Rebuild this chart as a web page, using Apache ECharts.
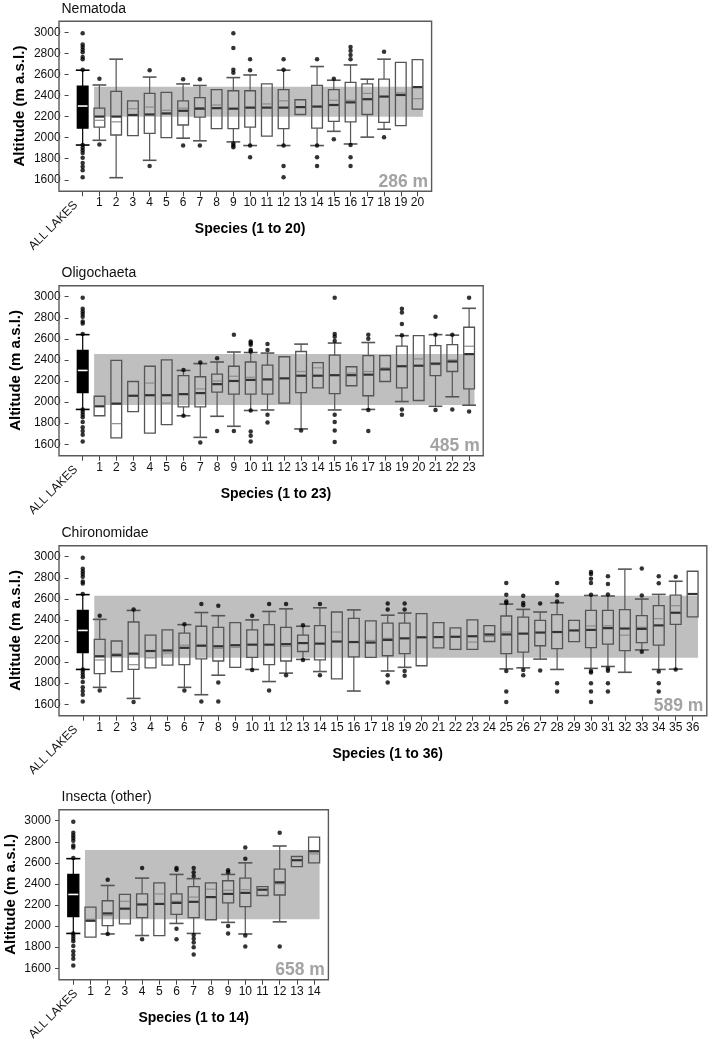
<!DOCTYPE html>
<html><head><meta charset="utf-8">
<script src="https://cdn.jsdelivr.net/npm/echarts@6/dist/echarts.min.js"></script>
<style>html,body{margin:0;padding:0;background:#fff}#c{width:709px;height:1042px}</style>
</head><body><div id="c"></div>
<script>
// ---- DATA ----  box rows: [low whisker, Q1, median, mean, Q3, high whisker]
const allLakesBox = [1930, 2090, 2300, 2300, 2490, 2640];
const allLakesOutliers = [2990, 2885, 2860, 2835, 2810, 2765, 2745, 2645, 1930, 1905, 1880, 1855, 1810, 1760, 1725, 1690, 1625];

const nematodaBoxes = [
  [1975, 2100, 2200, 2165, 2280, 2500], [1620, 2025, 2200, 2150, 2440, 2745], [2020, 2020, 2215, 2275, 2350, 2350],
  [1785, 2040, 2220, 2290, 2420, 2575], [2000, 2000, 2230, 2260, 2430, 2430], [1995, 2120, 2255, 2280, 2350, 2510],
  [1970, 2195, 2275, 2285, 2380, 2495], [2085, 2085, 2280, 2310, 2455, 2455], [1960, 2085, 2275, 2275, 2445, 2570],
  [1925, 2100, 2285, 2285, 2445, 2595], [2015, 2015, 2285, 2320, 2510, 2510], [1925, 2085, 2285, 2350, 2455, 2640],
  [2220, 2220, 2290, 2290, 2360, 2360], [1925, 2090, 2295, 2295, 2495, 2675], [2060, 2155, 2310, 2355, 2455, 2545],
  [1940, 2150, 2335, 2355, 2525, 2690], [2005, 2220, 2365, 2420, 2510, 2555], [2080, 2145, 2390, 2390, 2555, 2745],
  [2115, 2115, 2405, 2425, 2715, 2715], [2270, 2270, 2480, 2370, 2740, 2740]
];
const nematodaOutliers = [
  [1, 2560], [1, 1935], [4, 2640], [4, 1730], [6, 2555], [6, 1925], [7, 2555], [7, 1925],
  [9, 2990], [9, 2850], [9, 2645], [9, 2615], [9, 1945], [9, 1925], [9, 1910],
  [10, 2745], [10, 2640], [10, 1925], [10, 1815],
  [12, 2745], [12, 2645], [12, 1925], [12, 1730], [12, 1625],
  [14, 2745], [14, 1925], [14, 1815], [14, 1730], [15, 2560], [15, 1985],
  [16, 2860], [16, 2825], [16, 2785], [16, 2745], [16, 1930], [16, 1815], [16, 1730],
  [18, 2815], [18, 2005]
];

const oligochaetaBoxes = [
  [1870, 1870, 1960, 1960, 2055, 2055], [1660, 1660, 1985, 1795, 2395, 2395], [1910, 1910, 2060, 2060, 2195, 2195],
  [1705, 1705, 2065, 2180, 2340, 2340], [1785, 1785, 2065, 1990, 2400, 2400], [1870, 1955, 2075, 2080, 2250, 2300],
  [1665, 1955, 2085, 2125, 2240, 2365], [1865, 2095, 2170, 2200, 2265, 2380], [1770, 2075, 2200, 2245, 2340, 2475],
  [1920, 2075, 2210, 2235, 2380, 2470], [1925, 2075, 2215, 2215, 2350, 2465], [1990, 1990, 2225, 2225, 2430, 2430],
  [1745, 2090, 2250, 2290, 2480, 2550], [2135, 2135, 2250, 2325, 2375, 2375], [1925, 2080, 2255, 2255, 2445, 2560],
  [2155, 2155, 2255, 2275, 2335, 2335], [1930, 2060, 2260, 2290, 2440, 2565], [2195, 2195, 2310, 2325, 2440, 2440],
  [2005, 2135, 2340, 2340, 2530, 2630], [2015, 2015, 2345, 2410, 2630, 2630], [1960, 2250, 2365, 2355, 2535, 2640],
  [2050, 2290, 2385, 2400, 2545, 2635], [1970, 2125, 2455, 2530, 2710, 2890]
];
const oligochaetaOutliers = [
  [6, 2305], [6, 1870], [7, 2375], [7, 1615], [8, 2415], [8, 1725], [9, 2640], [9, 1725],
  [10, 2575], [10, 2560], [10, 2545], [10, 2495], [10, 2480], [10, 1920], [10, 1720], [10, 1680], [10, 1625],
  [11, 2550], [11, 2495], [11, 1880], [11, 1805], [13, 1730],
  [15, 2990], [15, 2645], [15, 2620], [15, 2580], [15, 1880], [15, 1810], [15, 1730], [15, 1620],
  [17, 2640], [17, 2600], [17, 1925], [17, 1725],
  [19, 2885], [19, 2850], [19, 2740], [19, 2635], [19, 1930], [19, 1880],
  [21, 2810], [21, 2640], [21, 1925], [22, 2640], [22, 1930], [23, 2990], [23, 1910]
];

const chironomidaeBoxes = [
  [1760, 1890, 2055, 2020, 2215, 2405], [1910, 1910, 2065, 2080, 2200, 2200], [1655, 1930, 2080, 1975, 2380, 2490],
  [1945, 1945, 2105, 2040, 2255, 2255], [1970, 1970, 2110, 2085, 2305, 2305], [1760, 1975, 2135, 2160, 2275, 2355],
  [1690, 2030, 2155, 2160, 2340, 2470], [1875, 2010, 2150, 2130, 2330, 2440], [1950, 1950, 2160, 2140, 2375, 2375],
  [1930, 2045, 2165, 2165, 2305, 2400], [1815, 1975, 2165, 2165, 2355, 2480], [1895, 2010, 2170, 2150, 2330, 2505],
  [2025, 2100, 2180, 2180, 2255, 2340], [1910, 2020, 2175, 2175, 2345, 2515], [1840, 1840, 2195, 2285, 2475, 2475],
  [1725, 2050, 2190, 2190, 2415, 2495], [2045, 2045, 2185, 2205, 2390, 2390], [1915, 2060, 2210, 2225, 2370, 2445],
  [1950, 2080, 2225, 2225, 2370, 2465], [1965, 1965, 2235, 2235, 2460, 2460], [2135, 2135, 2237, 2237, 2375, 2375],
  [2120, 2120, 2240, 2240, 2325, 2325], [2120, 2120, 2245, 2190, 2400, 2400], [2195, 2195, 2262, 2245, 2345, 2345],
  [1935, 2080, 2262, 2285, 2437, 2550], [1945, 2095, 2270, 2270, 2427, 2500], [2028, 2155, 2280, 2280, 2395, 2475],
  [1930, 2127, 2285, 2285, 2450, 2563], [2193, 2193, 2300, 2300, 2396, 2396], [1940, 2137, 2305, 2343, 2490, 2632],
  [1958, 2170, 2322, 2344, 2490, 2627], [1903, 2108, 2318, 2255, 2497, 2882], [2115, 2185, 2315, 2330, 2440, 2598],
  [1930, 2160, 2348, 2412, 2535, 2642], [1933, 2358, 2468, 2535, 2635, 2767], [2428, 2428, 2646, 2646, 2862, 2862]
];
const chironomidaeOutliers = [
  [1, 2440], [1, 1730], [3, 2500], [3, 1620], [6, 2360], [6, 1730], [7, 2550], [7, 1625],
  [8, 2535], [8, 1805], [8, 1625], [10, 2440], [10, 1925], [11, 2550], [11, 1730], [12, 2550], [12, 1875],
  [13, 2350], [13, 2020], [14, 2550], [14, 1875],
  [18, 2555], [18, 2500], [18, 1875], [18, 1805], [19, 2555], [19, 2500], [19, 1915], [19, 1870],
  [25, 2750], [25, 2640], [25, 2575], [25, 2560], [25, 1915], [25, 1720], [25, 1620],
  [26, 2630], [26, 2560], [26, 2540], [26, 1925], [26, 1875], [27, 2555], [27, 1920],
  [28, 2750], [28, 2635], [28, 2575], [28, 1800], [28, 1720],
  [30, 2855], [30, 2835], [30, 2790], [30, 2750], [30, 2640], [30, 1915], [30, 1900], [30, 1800], [30, 1720], [30, 1620],
  [31, 2815], [31, 2742], [31, 2642], [31, 1940], [31, 1918], [31, 1800], [31, 1720],
  [33, 2887], [33, 2632], [33, 2098], [34, 2815], [34, 2748], [34, 1910], [34, 1800], [34, 1720], [35, 2810], [35, 1930]
];

const insectaBoxes = [
  [1895, 1895, 2050, 2065, 2180, 2180], [1925, 2005, 2120, 2100, 2240, 2385], [2020, 2020, 2165, 2235, 2300, 2300],
  [1910, 2080, 2205, 2205, 2305, 2455], [1910, 1910, 2210, 2305, 2410, 2410], [2025, 2110, 2220, 2235, 2305, 2490],
  [1930, 2080, 2230, 2275, 2375, 2450], [2060, 2060, 2275, 2350, 2410, 2410], [2035, 2220, 2305, 2340, 2430, 2490],
  [1925, 2185, 2315, 2345, 2455, 2600], [2290, 2290, 2345, 2345, 2375, 2375], [2040, 2295, 2415, 2400, 2540, 2760],
  [2565, 2565, 2625, 2625, 2660, 2660], [2600, 2600, 2710, 2685, 2845, 2845]
];
const insectaOutliers = [
  [2, 2440], [2, 1925], [4, 2550], [4, 1875], [6, 2550], [6, 2535], [6, 1975], [6, 1875],
  [7, 2550], [7, 2510], [7, 2475], [7, 1915], [7, 1880], [7, 1845], [7, 1800], [7, 1730],
  [9, 2530], [9, 2510], [9, 2000], [9, 1930], [10, 2745], [10, 2640], [10, 1910], [10, 1805], [12, 2885], [12, 1805]
];

const panelTitles = ['Nematoda', 'Oligochaeta', 'Chironomidae', 'Insecta (other)'];
const xAxisNames = ['Species (1 to 20)', 'Species (1 to 23)', 'Species (1 to 36)', 'Species (1 to 14)'];
const firstCategory = 'ALL LAKES';
const yAxisName = 'Altitude (m a.s.l.)';
const yMin = 1600, yMax = 3000, yStep = 200;
const bandLow = [2198, 1972, 2040, 2064];
const bandHigh = [2484, 2457, 2629, 2722];
const bandLabels = ['286 m', '485 m', '589 m', '658 m'];

const panelBoxes = [nematodaBoxes, oligochaetaBoxes, chironomidaeBoxes, insectaBoxes];
const panelOutliers = [nematodaOutliers, oligochaetaOutliers, chironomidaeOutliers, insectaOutliers];

// ---- LAYOUT ----
const FONT = '"Liberation Sans", Arial, sans-serif';
const gridTops = [32.3, 296.7, 556.7, 820.7];
const GH = 147.5;          // height of 1600..3000
const CW = 17.2;           // category width
const GL = 64.7;           // grid left
const FRAME_L = 59;

const chart = echarts.init(document.getElementById('c'), null, {renderer: 'canvas'});

function renderBox(params, api) {
  const i = api.value(0);
  const low = api.value(1), q1 = api.value(2), med = api.value(3), mean = api.value(4), q3 = api.value(5), high = api.value(6);
  const isAll = api.value(7) === 1;
  const bw = api.size([1, 0])[0];
  const hw = bw * 0.32, cw = bw * 0.41;
  const x = api.coord([i, med])[0];
  const y = v => api.coord([i, v])[1];
  const stroke = isAll ? '#000' : '#555';
  const ln = (x1, y1, x2, y2, color, w) => ({type: 'line', shape: {x1, y1, x2, y2}, style: {stroke: color, lineWidth: w}});
  const ch = [];
  if (high > q3) { ch.push(ln(x, y(q3), x, y(high), stroke, 1.2)); ch.push(ln(x - cw, y(high), x + cw, y(high), stroke, 1.6)); }
  if (low < q1) { ch.push(ln(x, y(q1), x, y(low), stroke, 1.2)); ch.push(ln(x - cw, y(low), x + cw, y(low), stroke, 1.6)); }
  ch.push({type: 'rect', shape: {x: x - hw, y: y(q3), width: 2 * hw, height: y(q1) - y(q3)},
           style: {fill: isAll ? '#000' : 'none', stroke: stroke, lineWidth: 1.3}});
  if (!isAll && mean !== med) ch.push(ln(x - hw + 0.5, y(mean), x + hw - 0.5, y(mean), '#8c8c8c', 1.2));
  ch.push(ln(x - hw + 0.5, y(med), x + hw - 0.5, y(med), isAll ? '#fff' : '#333', isAll ? 1.6 : 2.2));
  return {type: 'group', children: ch};
}

function renderBand(params, api) {
  const bw = api.size([1, 0])[0];
  const p1 = api.coord([api.value(0), api.value(3)]);
  const p2 = api.coord([api.value(1), api.value(2)]);
  return {type: 'rect', shape: {x: p1[0] - bw * 0.32, y: p1[1], width: p2[0] - p1[0] + bw * 0.64, height: p2[1] - p1[1]},
          style: {fill: '#bfbfbf'}};
}

const grids = [], xAxes = [], yAxes = [], series = [], graphics = [];
panelBoxes.forEach((boxes, p) => {
  const n = boxes.length + 1;
  const W = n * CW;
  const top = gridTops[p];
  grids.push({left: GL, top: top, width: W, height: GH, show: false});
  const cats = [firstCategory].concat(boxes.map((b, k) => String(k + 1)));
  xAxes.push({
    type: 'category', gridIndex: p, data: cats, boundaryGap: true, offset: 11.5,
    axisLine: {show: false},
    axisTick: {show: true, alignWithLabel: true, interval: 0, length: 5, lineStyle: {color: '#444', width: 1}},
    axisLabel: {interval: 0, margin: 5.5, fontSize: 12, color: '#111', fontFamily: FONT,
                formatter: (v, idx) => idx === 0 ? '' : v},
    splitLine: {show: false},
    name: xAxisNames[p], nameLocation: 'middle', nameGap: 31,
    nameTextStyle: {fontSize: 14, fontWeight: 'bold', color: '#000', fontFamily: FONT}
  });
  yAxes.push({
    type: 'value', gridIndex: p, min: yMin, max: yMax, interval: yStep, offset: GL - FRAME_L,
    axisLine: {show: false},
    axisTick: {show: true, length: 4, lineStyle: {color: '#444', width: 1}},
    axisLabel: {margin: 8, fontSize: 12, color: '#111', fontFamily: FONT, formatter: v => String(v)},
    splitLine: {show: false},
    name: yAxisName, nameLocation: 'middle', nameRotate: 90, nameGap: 41,
    nameTextStyle: {fontSize: 15, fontWeight: 'bold', color: '#000', fontFamily: FONT}
  });
  series.push({
    type: 'custom', xAxisIndex: p, yAxisIndex: p, z: 1, silent: true,
    renderItem: renderBand, encode: {x: 0, y: [2, 3]},
    data: [[1, n - 1, bandLow[p], bandHigh[p]]]
  });
  const boxData = [[0].concat(allLakesBox, [1])].concat(boxes.map((b, k) => [k + 1].concat(b, [0])));
  series.push({
    type: 'custom', xAxisIndex: p, yAxisIndex: p, z: 2, silent: true,
    renderItem: renderBox, encode: {x: 0, y: [1, 2, 3, 4, 5, 6]},
    data: boxData
  });
  const outData = allLakesOutliers.map(v => [0, v]).concat(panelOutliers[p]);
  series.push({
    type: 'scatter', xAxisIndex: p, yAxisIndex: p, z: 3, silent: true, clip: false,
    symbol: 'circle', symbolSize: 4.5, itemStyle: {color: '#000'},
    data: outData
  });
  const frameTop = top - 11, frameBottom = top + GH + 11.5;
  const frameRight = GL + W + 5.7;
  graphics.push({type: 'rect', z: 10, silent: true,
    shape: {x: FRAME_L, y: frameTop, width: frameRight - FRAME_L, height: frameBottom - frameTop},
    style: {fill: 'none', stroke: '#5a5a5a', lineWidth: 1.4}});
  graphics.push({type: 'text', z: 10, silent: true, x: 61.5, y: frameTop - 12.5,
    style: {text: panelTitles[p], fontSize: 14, fontFamily: FONT, fill: '#111', align: 'left', verticalAlign: 'middle'}});
  graphics.push({type: 'text', z: 10, silent: true, x: frameRight - 3.5, y: frameBottom - 0.5,
    style: {text: bandLabels[p], fontSize: 17.5, fontWeight: 'bold', fontFamily: FONT, fill: '#a3a3a3', align: 'right', verticalAlign: 'bottom'}});
  graphics.push({type: 'text', z: 10, silent: true, x: GL + CW / 2 + 2.5, y: frameBottom + 12, rotation: Math.PI / 4,
    style: {text: firstCategory, fontSize: 12, fontFamily: FONT, fill: '#111', align: 'right', verticalAlign: 'middle'}});
});

chart.setOption({
  animation: false,
  backgroundColor: '#fff',
  grid: grids, xAxis: xAxes, yAxis: yAxes, series: series,
  graphic: {elements: graphics}
});
</script></body></html>
